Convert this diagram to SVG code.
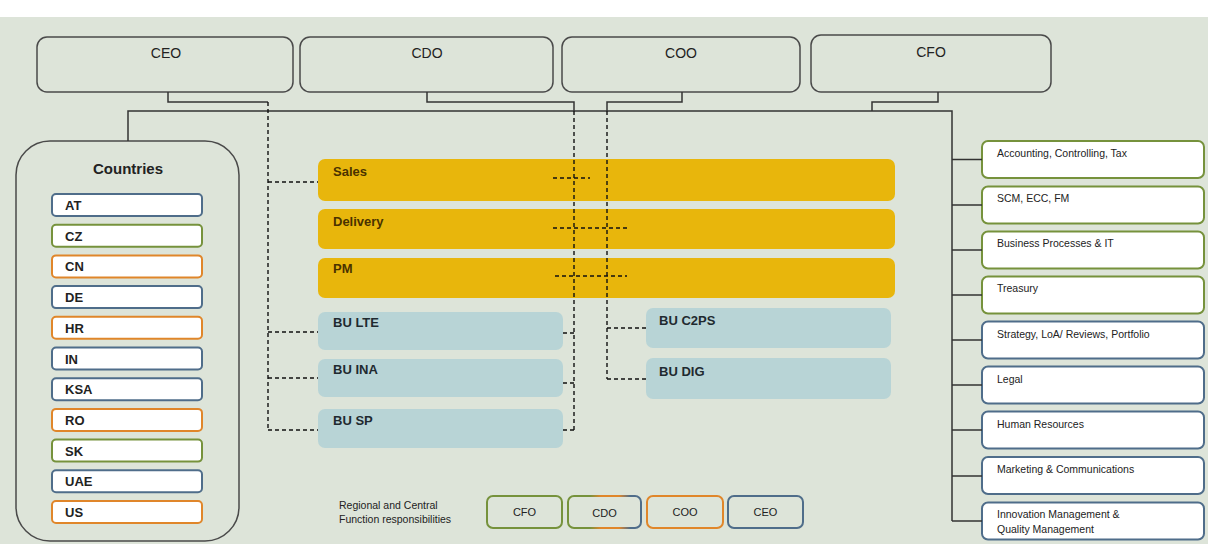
<svg xmlns="http://www.w3.org/2000/svg" width="1208" height="544" viewBox="0 0 1208 544">
<defs>
<linearGradient id="gmix" x1="0" y1="0" x2="1" y2="0">
<stop offset="0" stop-color="#76923c"/>
<stop offset="0.3" stop-color="#76923c"/>
<stop offset="0.45" stop-color="#e0862a"/>
<stop offset="0.7" stop-color="#e0862a"/>
<stop offset="0.85" stop-color="#4f6d8a"/>
<stop offset="1" stop-color="#4f6d8a"/>
</linearGradient>
</defs>
<style>
.top{fill:none;stroke:#4a4a4a;stroke-width:1.5}
.toptxt{font-family:"Liberation Sans",Arial,sans-serif;font-size:14px;fill:#222;text-anchor:middle}
.ctry{fill:#fff;stroke-width:2}
.ctxt{font-family:"Liberation Sans",Arial,sans-serif;font-size:13px;font-weight:bold;fill:#222}
.bar{fill:#e8b60c}
.bartxt{font-family:"Liberation Sans",Arial,sans-serif;font-size:13px;font-weight:bold;fill:#4a3200}
.bu{fill:#b8d4d6}
.butxt{font-family:"Liberation Sans",Arial,sans-serif;font-size:13px;font-weight:bold;fill:#1f2a30}
.rbox{fill:#fff;stroke-width:2}
.rtxt{font-family:"Liberation Sans",Arial,sans-serif;font-size:10.5px;fill:#222}
.g{stroke:#76923c}
.b{stroke:#4f6d8a}
.o{stroke:#e0862a}
.solid{fill:none;stroke:#333;stroke-width:1.5}
.dash{fill:none;stroke:#111;stroke-width:1.4;stroke-dasharray:4 3}
.leg{fill:none;stroke-width:2}
.legtxt{font-family:"Liberation Sans",Arial,sans-serif;font-size:11px;fill:#222;text-anchor:middle}
</style>
<rect x="0" y="0" width="1208" height="544" fill="#ffffff"/>
<rect x="0" y="17" width="1208" height="527" fill="#dde4d9"/>

<g id="ceo"><rect class="top" x="37" y="37" width="256" height="55" rx="10"/><text class="toptxt" x="166" y="58">CEO</text></g>
<g id="cdo"><rect class="top" x="300" y="37" width="253" height="55" rx="10"/><text class="toptxt" x="427" y="58">CDO</text></g>
<g id="coo"><rect class="top" x="562" y="37" width="238" height="55" rx="10"/><text class="toptxt" x="681" y="58">COO</text></g>
<g id="cfo"><rect class="top" x="811" y="35" width="240" height="57" rx="10"/><text class="toptxt" x="931" y="57">CFO</text></g>

<g id="countries">
<rect x="16" y="141" width="223" height="400" rx="34" fill="none" stroke="#4a4a4a" stroke-width="1.5"/>
<text x="128" y="174" font-family="Liberation Sans, Arial, sans-serif" font-size="15" font-weight="bold" fill="#222" text-anchor="middle">Countries</text>
<g id="c-at"><rect class="ctry b" x="52" y="194" width="150" height="22" rx="4"/><text class="ctxt" x="65" y="210">AT</text></g>
<g id="c-cz"><rect class="ctry g" x="52" y="224.7" width="150" height="22" rx="4"/><text class="ctxt" x="65" y="240.7">CZ</text></g>
<g id="c-cn"><rect class="ctry o" x="52" y="255.4" width="150" height="22" rx="4"/><text class="ctxt" x="65" y="271.4">CN</text></g>
<g id="c-de"><rect class="ctry b" x="52" y="286.1" width="150" height="22" rx="4"/><text class="ctxt" x="65" y="302.1">DE</text></g>
<g id="c-hr"><rect class="ctry o" x="52" y="316.8" width="150" height="22" rx="4"/><text class="ctxt" x="65" y="332.8">HR</text></g>
<g id="c-in"><rect class="ctry b" x="52" y="347.5" width="150" height="22" rx="4"/><text class="ctxt" x="65" y="363.5">IN</text></g>
<g id="c-ksa"><rect class="ctry b" x="52" y="378.2" width="150" height="22" rx="4"/><text class="ctxt" x="65" y="394.2">KSA</text></g>
<g id="c-ro"><rect class="ctry o" x="52" y="408.9" width="150" height="22" rx="4"/><text class="ctxt" x="65" y="424.9">RO</text></g>
<g id="c-sk"><rect class="ctry g" x="52" y="439.6" width="150" height="22" rx="4"/><text class="ctxt" x="65" y="455.6">SK</text></g>
<g id="c-uae"><rect class="ctry b" x="52" y="470.3" width="150" height="22" rx="4"/><text class="ctxt" x="65" y="486.3">UAE</text></g>
<g id="c-us"><rect class="ctry o" x="52" y="501" width="150" height="22" rx="4"/><text class="ctxt" x="65" y="517">US</text></g>
</g>

<g id="sales"><rect class="bar" x="318" y="159" width="577" height="42" rx="7"/><text class="bartxt" x="333" y="176">Sales</text></g>
<g id="delivery"><rect class="bar" x="318" y="209" width="577" height="40" rx="7"/><text class="bartxt" x="333" y="226">Delivery</text></g>
<g id="pm"><rect class="bar" x="318" y="258" width="577" height="40" rx="7"/><text class="bartxt" x="333" y="273">PM</text></g>

<g id="bu-lte"><rect class="bu" x="318" y="312" width="245" height="38" rx="7"/><text class="butxt" x="333" y="327">BU LTE</text></g>
<g id="bu-ina"><rect class="bu" x="318" y="359" width="245" height="38" rx="7"/><text class="butxt" x="333" y="374">BU INA</text></g>
<g id="bu-sp"><rect class="bu" x="318" y="409" width="245" height="39" rx="7"/><text class="butxt" x="333" y="425">BU SP</text></g>
<g id="bu-c2ps"><rect class="bu" x="646" y="308" width="245" height="40" rx="7"/><text class="butxt" x="659" y="325">BU C2PS</text></g>
<g id="bu-dig"><rect class="bu" x="646" y="358" width="245" height="41" rx="7"/><text class="butxt" x="659" y="376">BU <tspan font-weight="900">DIG</tspan></text></g>

<g id="r-acc"><rect class="rbox g" x="982" y="141" width="222" height="37" rx="6"/><text class="rtxt" x="997" y="157">Accounting, Controlling, Tax</text></g>
<g id="r-scm"><rect class="rbox g" x="982" y="186.5" width="222" height="37" rx="6"/><text class="rtxt" x="997" y="202">SCM, ECC, FM</text></g>
<g id="r-bp"><rect class="rbox g" x="982" y="231.5" width="222" height="37" rx="6"/><text class="rtxt" x="997" y="247">Business Processes &amp; IT</text></g>
<g id="r-tre"><rect class="rbox g" x="982" y="276.5" width="222" height="37" rx="6"/><text class="rtxt" x="997" y="292">Treasury</text></g>
<g id="r-str"><rect class="rbox b" x="982" y="321.5" width="222" height="37" rx="6"/><text class="rtxt" x="997" y="338">Strategy,  LoA/ Reviews, Portfolio</text></g>
<g id="r-leg"><rect class="rbox b" x="982" y="366.5" width="222" height="37" rx="6"/><text class="rtxt" x="997" y="383">Legal</text></g>
<g id="r-hr"><rect class="rbox b" x="982" y="411.5" width="222" height="37" rx="6"/><text class="rtxt" x="997" y="428">Human Resources</text></g>
<g id="r-mkt"><rect class="rbox b" x="982" y="457" width="222" height="37" rx="6"/><text class="rtxt" x="997" y="473">Marketing &amp; Communications</text></g>
<g id="r-inn"><rect class="rbox b" x="982" y="502.5" width="222" height="37" rx="6"/><text class="rtxt" x="997" y="518">Innovation Management &amp;</text><text class="rtxt" x="997" y="533">Quality Management</text></g>

<g id="legend">
<text class="rtxt" x="339" y="509">Regional and Central</text>
<text class="rtxt" x="339" y="523">Function responsibilities</text>
<g id="l-cfo"><rect class="leg g" x="487" y="496" width="75" height="32" rx="6"/><text class="legtxt" x="524.5" y="516">CFO</text></g>
<g id="l-cdo"><rect class="leg" stroke="url(#gmix)" x="568" y="496" width="73" height="32" rx="6"/><text class="legtxt" x="604.5" y="517" font-size="13">CDO</text></g>
<g id="l-coo"><rect class="leg o" x="647" y="496" width="76" height="32" rx="6"/><text class="legtxt" x="685" y="516">COO</text></g>
<g id="l-ceo"><rect class="leg b" x="728" y="496" width="75" height="32" rx="6"/><text class="legtxt" x="765.5" y="516">CEO</text></g>
</g>

<g id="connectors">
<path class="solid" d="M168 92 V102 H268 M427 92 V102 H574 V111 M682 92 V102 H607 V111 M938 92 V102 H872 V111 M128 141 V111 H952 V521"/>
<path class="solid" d="M952 159.5 H982 M952 205 H982 M952 250 H982 M952 295 H982 M952 340 H982 M952 385 H982 M952 430 H982 M952 476 H982 M952 521 H982"/>
<path class="dash" d="M268 102 V430 M268 182 H318 M268 332 H318 M268 378 H318 M268 430 H318"/>
<path class="dash" d="M574 111 V430 M563 333 H574 M563 383 H574 M563 430 H574"/>
<path class="dash" d="M607 111 V379 M607 328 H646 M607 379 H646"/>
<path class="dash" d="M553 178 H590 M553 228 H627 M555 276 H627"/>
</g>
</svg>
